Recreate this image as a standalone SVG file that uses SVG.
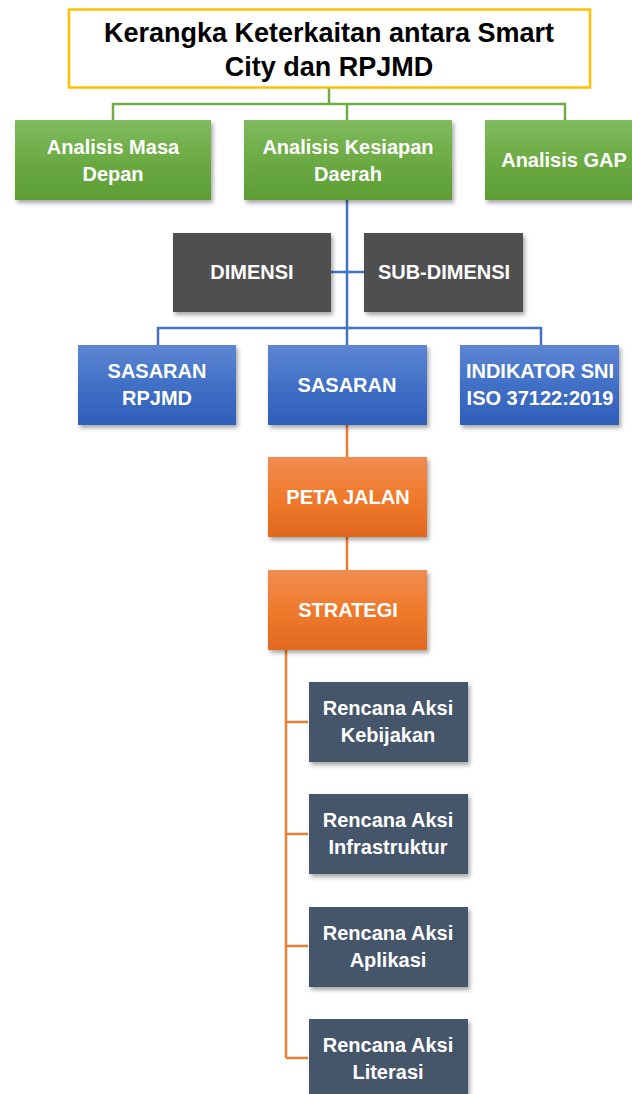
<svg xmlns="http://www.w3.org/2000/svg" width="632" height="1094" viewBox="0 0 632 1094">
  <defs>
    <linearGradient id="gGreen" x1="0" y1="0" x2="0" y2="1">
      <stop offset="0" stop-color="#80bb5f"/>
      <stop offset="0.5" stop-color="#6cab44"/>
      <stop offset="1" stop-color="#5c9d34"/>
    </linearGradient>
    <linearGradient id="gBlue" x1="0" y1="0" x2="0" y2="1">
      <stop offset="0" stop-color="#5e86d2"/>
      <stop offset="0.5" stop-color="#4170c6"/>
      <stop offset="1" stop-color="#2f5eb9"/>
    </linearGradient>
    <linearGradient id="gOrange" x1="0" y1="0" x2="0" y2="1">
      <stop offset="0" stop-color="#f08c52"/>
      <stop offset="0.5" stop-color="#ef7a2c"/>
      <stop offset="1" stop-color="#e1681e"/>
    </linearGradient>
    <filter id="shadow" x="-10%" y="-10%" width="125%" height="130%">
      <feDropShadow dx="2" dy="3" stdDeviation="2" flood-color="#000" flood-opacity="0.35"/>
    </filter>
  </defs>
  <style>
    .box { filter: url(#shadow); }
    .green { fill: url(#gGreen); }
    .blue { fill: url(#gBlue); }
    .orange { fill: url(#gOrange); }
    .dark { fill: #505050; }
    .slate { fill: #44546a; }
    .lbl { font-family: "Liberation Sans", Arial, sans-serif; font-weight: bold; font-size: 20px; fill: #ffffff; text-anchor: middle; }
    .title { font-family: "Liberation Sans", Arial, sans-serif; font-weight: bold; font-size: 27px; fill: #000000; text-anchor: middle; }
    .cg { stroke: #70ad47; stroke-width: 2.5; fill: none; }
    .cb { stroke: #4472c4; stroke-width: 2.5; fill: none; }
    .co { stroke: #ed7d31; stroke-width: 2.5; fill: none; }
  </style>

  <rect width="632" height="1094" fill="#ffffff"/>

  <!-- connectors -->
  <g id="connectors">
    <path class="cg" d="M329 88 V104 M113 120 V104 H565 V120 M347 104 V120"/>
    <path class="cb" d="M347 200 V345 M331 272 H364 M158 345 V328 H541 V345"/>
    <path class="co" d="M347 425 V457 M347 537 V570"/>
    <path class="co" d="M286 650 V1058 M286 722 H308 M286 834 H308 M286 946 H308 M286 1058 H308"/>
  </g>

  <!-- title -->
  <g id="title">
    <rect x="69" y="9.5" width="521" height="78" fill="#ffffff" stroke="#ffc000" stroke-width="2.5"/>
    <text class="title" x="329" y="41.5">Kerangka Keterkaitan antara Smart</text>
    <text class="title" x="329" y="75.5">City dan RPJMD</text>
  </g>

  <!-- analysis row -->
  <g id="analisis-masa-depan">
    <rect class="box green" x="15" y="120" width="196" height="80"/>
    <text class="lbl" x="113" y="154">Analisis Masa</text>
    <text class="lbl" x="113" y="181">Depan</text>
  </g>
  <g id="analisis-kesiapan-daerah">
    <rect class="box green" x="244" y="120" width="208" height="80"/>
    <text class="lbl" x="348" y="154">Analisis Kesiapan</text>
    <text class="lbl" x="348" y="181">Daerah</text>
  </g>
  <g id="analisis-gap">
    <rect class="box green" x="485" y="120" width="160" height="80"/>
    <text class="lbl" x="564" y="167">Analisis GAP</text>
  </g>

  <!-- dimension row -->
  <g id="dimensi">
    <rect class="box dark" x="173" y="233" width="158" height="79"/>
    <text class="lbl" x="252" y="279">DIMENSI</text>
  </g>
  <g id="sub-dimensi">
    <rect class="box dark" x="364" y="233" width="159" height="79"/>
    <text class="lbl" x="444" y="279">SUB-DIMENSI</text>
  </g>

  <!-- target row -->
  <g id="sasaran-rpjmd">
    <rect class="box blue" x="78" y="345" width="158" height="80"/>
    <text class="lbl" x="157" y="378">SASARAN</text>
    <text class="lbl" x="157" y="405">RPJMD</text>
  </g>
  <g id="sasaran">
    <rect class="box blue" x="268" y="345" width="159" height="80"/>
    <text class="lbl" x="347" y="392">SASARAN</text>
  </g>
  <g id="indikator-sni">
    <rect class="box blue" x="460" y="345" width="159" height="80"/>
    <text class="lbl" x="540" y="378">INDIKATOR SNI</text>
    <text class="lbl" x="540" y="405">ISO 37122:2019</text>
  </g>

  <!-- roadmap and strategy -->
  <g id="peta-jalan">
    <rect class="box orange" x="268" y="457" width="159" height="80"/>
    <text class="lbl" x="348" y="504">PETA JALAN</text>
  </g>
  <g id="strategi">
    <rect class="box orange" x="268" y="570" width="159" height="80"/>
    <text class="lbl" x="348" y="617">STRATEGI</text>
  </g>

  <!-- action plans -->
  <g id="rencana-kebijakan">
    <rect class="box slate" x="309" y="682" width="159" height="80"/>
    <text class="lbl" x="388" y="715">Rencana Aksi</text>
    <text class="lbl" x="388" y="742">Kebijakan</text>
  </g>
  <g id="rencana-infrastruktur">
    <rect class="box slate" x="309" y="794" width="159" height="80"/>
    <text class="lbl" x="388" y="827">Rencana Aksi</text>
    <text class="lbl" x="388" y="854">Infrastruktur</text>
  </g>
  <g id="rencana-aplikasi">
    <rect class="box slate" x="309" y="907" width="159" height="80"/>
    <text class="lbl" x="388" y="940">Rencana Aksi</text>
    <text class="lbl" x="388" y="967">Aplikasi</text>
  </g>
  <g id="rencana-literasi">
    <rect class="box slate" x="309" y="1019" width="159" height="80"/>
    <text class="lbl" x="388" y="1052">Rencana Aksi</text>
    <text class="lbl" x="388" y="1079">Literasi</text>
  </g>
</svg>
